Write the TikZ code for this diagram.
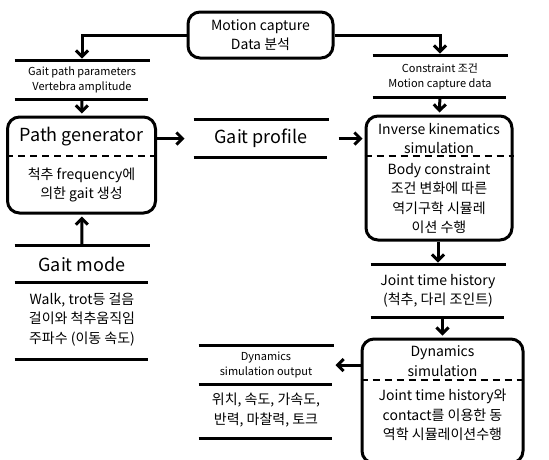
\documentclass[tikz,border=0pt]{standalone}
\usepackage{fontspec}
\setmainfont{Noto Sans CJK KR}
\usetikzlibrary{positioning}
\usetikzlibrary{arrows.meta}

\begin{document}
\begin{tikzpicture}[x=1pt, y=-1pt, line width=3pt,
        >={Straight Barb[length=6pt, width=12pt]},
        shorten >=2pt,
        box/.style={draw, rounded corners=12pt, inner sep=0pt},
        store/.style={inner sep=0pt, minimum width=132pt, align=center},
        big/.style={font=\fontsize{18}{22}\selectfont},
        mid/.style={font=\fontsize{14}{19.5}\selectfont, align=center},
        small/.style={font=\fontsize{11}{15}\selectfont, align=center},
        divider/.style={dash pattern=on 7pt off 5pt, line width=2.5pt, shorten >=0pt},
        ]
    \useasboundingbox (0,0) rectangle (549,459);

    \node (mocap) at (260.5,35) [box, minimum width=145pt, minimum height=46pt, mid] {Motion capture\\Data 분석};

    % left column
    \node (gpp) at (82,80) [store, minimum height=36pt, small] {Gait path parameters\\Vertebra amplitude};

    \node (pg) at (81.5,165) [box, minimum width=148pt, minimum height=96pt] {};
    \node (pgtop) at (81.5,137) [big] {Path generator};
    \node (pgbot) at (81.5,185) [mid] {척추 frequency에\\의한 gait 생성};
    \draw[divider] (pg.west |- 0,156) -- (pg.east |- 0,156);

    \node (gm) at (82,264) [store, minimum height=34pt, big] {Gait mode};
    \node (gmd) at (82,319.5) [store, minimum height=77pt, mid] {Walk, trot등 걸음\\걸이와 척추움직임\\주파수 (이동 속도)};

    % middle
    \node (gprof) at (261,138.5) [store, minimum height=35pt, big] {Gait profile};

    \node (dout) at (266,365) [store, minimum height=36pt, small] {Dynamics\\simulation output};
    \node (dval) at (266,410) [store, minimum height=54pt, mid] {위치, 속도, 가속도,\\반력, 마찰력, 토크};

    % right column
    \node (cmd) at (440,76.5) [store, minimum height=39pt, small] {Constraint 조건\\Motion capture data};

    \node (ik) at (439,178) [box, minimum width=146pt, minimum height=124pt] {};
    \node (iktop) at (439,138.5) [mid] {Inverse kinematics\\simulation};
    \node (ikbot) at (439,198.5) [mid] {Body constraint\\조건 변화에 따른\\역기구학 시뮬레\\이션 수행};
    \draw[divider] (ik.west |- 0,156) -- (ik.east |- 0,156);

    \node (jth) at (438,291) [store, minimum height=50pt, mid] {Joint time history\\(척추, 다리 조인트)};

    \node (dyn) at (442.5,401) [box, minimum width=161pt, minimum height=124pt] {};
    \node (dyntop) at (442.5,361) [mid] {Dynamics\\simulation};
    \node (dynbot) at (442.5,415) [mid] {Joint time history와\\contact를 이용한 동\\역학 시뮬레이션수행};
    \draw[divider] (dyn.west |- 0,380) -- (dyn.east |- 0,380);

    % store lines
    \foreach \n in {gpp,gm,gprof,dout,cmd,jth}
        \draw (\n.north west) -- (\n.north east) (\n.south west) -- (\n.south east);
    \foreach \n in {gmd,dval}
        \draw (\n.south west) -- (\n.south east);

    % connectors
    \draw[->] (mocap.west) -| (gpp.north);
    \draw[->] (mocap.east) -| (cmd.north);
    \draw[->] (gpp) -- (pg);
    \draw[->] (gm) -- (pg);
    \draw[->, shorten >=9pt] (pg.east |- gprof.west) -- (gprof.west);
    \draw[->, shorten <=10pt] (gprof.east) -- (ik.west |- gprof.east);
    \draw[->] (cmd) -- (ik);
    \draw[->] (ik.south -| jth.north) -- (jth.north);
    \draw[->] (jth.south -| dyn.north) -- (dyn.north);
    \draw[->] (dyn.west |- dout.east) -- (dout.east);

\end{tikzpicture}
\end{document}
